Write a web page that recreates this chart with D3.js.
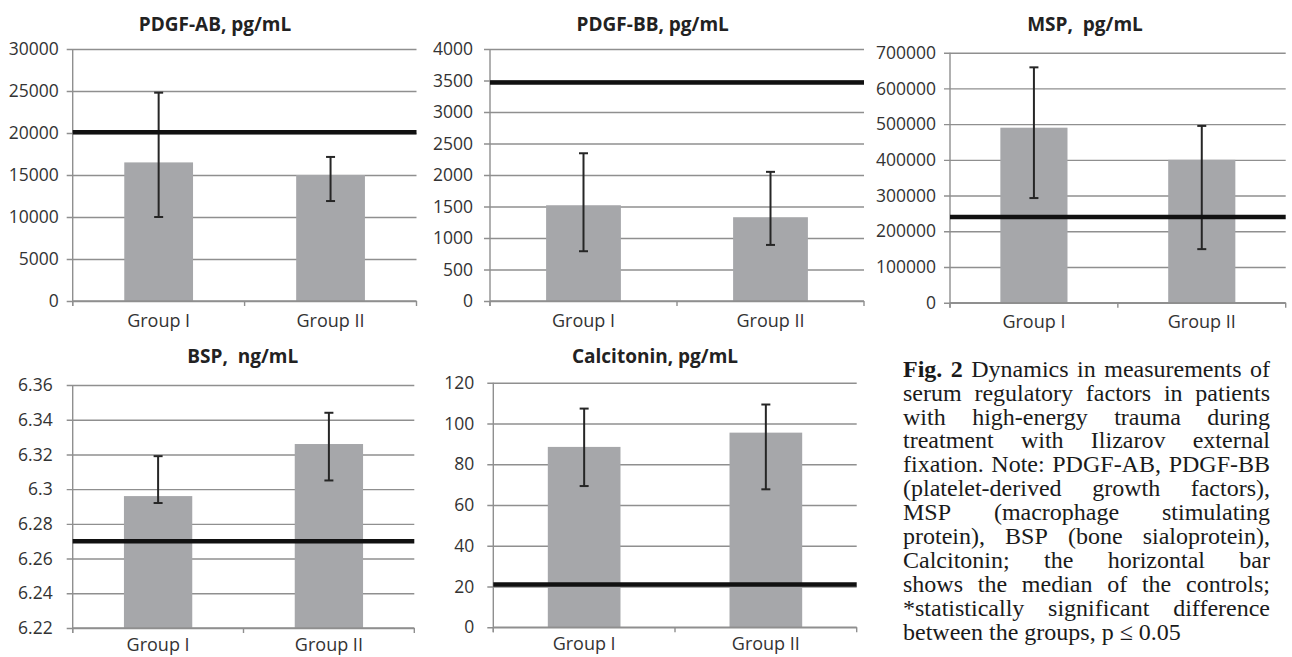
<!DOCTYPE html>
<html>
<head>
<meta charset="utf-8">
<script src="https://cdn.jsdelivr.net/npm/d3@7"></script>
<style>
  body { margin: 0; background: #fff; }
  svg { display: block; }
</style>
</head>
<body>
<div id="my_dataviz"></div>
<script>
// categories
const groups = ["Group I", "Group II"];

// PDGF-AB, pg/mL
const pdgfAbMean = [16500, 15000];
const pdgfAbLow = [10000, 11900];
const pdgfAbHigh = [24800, 17150];
const pdgfAbControl = 20100;
const pdgfAbTicks = [0, 5000, 10000, 15000, 20000, 25000, 30000];

// PDGF-BB, pg/mL
const pdgfBbMean = [1520, 1330];
const pdgfBbLow = [790, 890];
const pdgfBbHigh = [2345, 2050];
const pdgfBbControl = 3470;
const pdgfBbTicks = [0, 500, 1000, 1500, 2000, 2500, 3000, 3500, 4000];

// MSP, pg/mL
const mspMean = [490000, 400000];
const mspLow = [293000, 150000];
const mspHigh = [659000, 495000];
const mspControl = 240000;
const mspTicks = [0, 100000, 200000, 300000, 400000, 500000, 600000, 700000];

// BSP, ng/mL
const bspMean = [6.296, 6.326];
const bspLow = [6.292, 6.305];
const bspHigh = [6.319, 6.344];
const bspControl = 6.270;
const bspTicks = [6.22, 6.24, 6.26, 6.28, 6.3, 6.32, 6.34, 6.36];

// Calcitonin, pg/mL
const calcMean = [88.5, 95.5];
const calcLow = [69.3, 67.7];
const calcHigh = [107.3, 109.3];
const calcControl = 21;
const calcTicks = [0, 20, 40, 60, 80, 100, 120];

const captionLines = [
  "Fig. 2 Dynamics in measurements of",
  "serum regulatory factors in patients",
  "with high-energy trauma during",
  "treatment with Ilizarov external",
  "fixation. Note: PDGF-AB, PDGF-BB",
  "(platelet-derived growth factors),",
  "MSP (macrophage stimulating",
  "protein), BSP (bone sialoprotein),",
  "Calcitonin; the horizontal bar",
  "shows the median of the controls;",
  "*statistically significant difference",
  "between the groups, p \u2264 0.05"
];

const panels = [
  {title: "PDGF-AB, pg/mL", mean: pdgfAbMean, low: pdgfAbLow, high: pdgfAbHigh, control: pdgfAbControl, ticks: pdgfAbTicks,
   left: 72.7, right: 416.5, top: 49, bottom: 301, titleX: 215, titleY: 31, gap: 14, labY: 26},
  {title: "PDGF-BB, pg/mL", mean: pdgfBbMean, low: pdgfBbLow, high: pdgfBbHigh, control: pdgfBbControl, ticks: pdgfBbTicks,
   left: 490, right: 864, top: 49, bottom: 301, titleX: 652.7, titleY: 31, gap: 17, labY: 26},
  {title: "MSP,  pg/mL", mean: mspMean, low: mspLow, high: mspHigh, control: mspControl, ticks: mspTicks,
   left: 950, right: 1285.7, top: 52.7, bottom: 302.7, titleX: 1085, titleY: 31, gap: 14, labY: 25},
  {title: "BSP,  ng/mL", mean: bspMean, low: bspLow, high: bspHigh, control: bspControl, ticks: bspTicks,
   left: 72.7, right: 414.3, top: 385, bottom: 628, titleX: 242.7, titleY: 363, gap: 20, labY: 23},
  {title: "Calcitonin, pg/mL", mean: calcMean, low: calcLow, high: calcHigh, control: calcControl, ticks: calcTicks,
   left: 493.3, right: 856.7, top: 382.7, bottom: 627.3, titleX: 655, titleY: 363, gap: 19, labY: 23}
];

const gridColor = "#8f8f8f";
const barColor = "#a6a7aa";
const font = "'Open Sans', 'Noto Sans', sans-serif";

const svg = d3.select("#my_dataviz")
  .append("svg")
    .attr("width", 1292)
    .attr("height", 657);

panels.forEach(function(p) {
  const g = svg.append("g");
  const w = p.right - p.left;

  const y = d3.scaleLinear()
    .domain(d3.extent(p.ticks))
    .range([p.bottom, p.top]);

  const x = d3.scaleBand()
    .domain(groups)
    .range([p.left, p.right])
    .padding(0);

  // title
  g.append("text")
    .attr("x", p.titleX)
    .attr("y", p.titleY)
    .attr("text-anchor", "middle")
    .style("font-family", font)
    .style("font-size", "19px")
    .style("font-weight", 700)
    .style("fill", "#222")
    .style("white-space", "pre")
    .text(p.title);

  // y axis with gridlines
  const yAxis = g.append("g")
    .attr("transform", `translate(${p.left},0)`)
    .call(d3.axisLeft(y).tickValues(p.ticks).tickFormat(d3.format("~g"))
      .tickSizeInner(-w).tickSizeOuter(0).tickPadding(p.gap));
  yAxis.select(".domain").remove();
  yAxis.selectAll(".tick line")
    .attr("x1", -6)
    .attr("stroke", gridColor)
    .attr("stroke-width", 1.4);
  yAxis.selectAll(".tick text")
    .style("font-family", font)
    .style("font-size", "17.5px")
    .style("fill", "#333");

  // left axis line
  g.append("line")
    .attr("x1", p.left).attr("x2", p.left)
    .attr("y1", p.top).attr("y2", p.bottom + 5)
    .attr("stroke", gridColor)
    .attr("stroke-width", 1.4);

  // bars
  g.selectAll("rect.bar")
    .data(groups)
    .join("rect")
      .attr("class", "bar")
      .attr("x", d => x(d) + x.bandwidth() * 0.3)
      .attr("width", x.bandwidth() * 0.4)
      .attr("y", (d, i) => y(p.mean[i]))
      .attr("height", (d, i) => p.bottom - y(p.mean[i]))
      .style("fill", barColor);

  // bottom axis
  g.append("line")
    .attr("x1", p.left).attr("x2", p.right)
    .attr("y1", p.bottom).attr("y2", p.bottom)
    .attr("stroke", gridColor)
    .attr("stroke-width", 1.6);
  const bounds = groups.map(d => x(d)).concat([x.range()[1]]);
  g.selectAll("line.xtick")
    .data(bounds)
    .join("line")
      .attr("class", "xtick")
      .attr("x1", d => d).attr("x2", d => d)
      .attr("y1", p.bottom).attr("y2", p.bottom + 5)
      .attr("stroke", gridColor)
      .attr("stroke-width", 1.4);
  g.selectAll("text.xlab")
    .data(groups)
    .join("text")
      .attr("class", "xlab")
      .attr("x", d => x(d) + x.bandwidth() / 2)
      .attr("y", p.bottom + p.labY)
      .attr("text-anchor", "middle")
      .style("font-family", font)
      .style("font-size", "18px")
      .style("fill", "#333")
      .text(d => d);

  // error bars
  const eb = g.selectAll("g.err")
    .data(groups)
    .join("g")
      .attr("class", "err")
      .attr("stroke", "#262626")
      .attr("stroke-width", 2);
  eb.append("line")
    .attr("x1", d => x(d) + x.bandwidth() / 2)
    .attr("x2", d => x(d) + x.bandwidth() / 2)
    .attr("y1", (d, i) => y(p.low[i]))
    .attr("y2", (d, i) => y(p.high[i]));
  [p.low, p.high].forEach(function(arr) {
    eb.append("line")
      .attr("x1", d => x(d) + x.bandwidth() / 2 - 4.5)
      .attr("x2", d => x(d) + x.bandwidth() / 2 + 4.5)
      .attr("y1", (d, i) => y(arr[i]))
      .attr("y2", (d, i) => y(arr[i]));
  });

  // median of the controls
  g.append("line")
    .attr("x1", p.left).attr("x2", p.right)
    .attr("y1", y(p.control)).attr("y2", y(p.control))
    .attr("stroke", "#111")
    .attr("stroke-width", 4.5);
});

// caption, justified like the printed figure legend
const capLeft = 903, capRight = 1270, capTop = 376.7, capStep = 23.9;
const cap = svg.append("g")
  .style("font-family", "'Liberation Serif', 'Times New Roman', serif")
  .style("font-size", "24px")
  .style("fill", "#1a1a1a");

captionLines.forEach(function(line, i) {
  const words = line.split(" ");
  const texts = words.map(function(wd, j) {
    return cap.append("text")
      .attr("y", capTop + i * capStep)
      .style("font-weight", (i === 0 && j < 2) ? 700 : 400)
      .text(wd);
  });
  const widths = texts.map(t => t.node().getComputedTextLength());
  const total = d3.sum(widths);
  const last = i === captionLines.length - 1;
  const space = last ? 6 : (capRight - capLeft - total) / (words.length - 1);
  let cx = capLeft;
  texts.forEach(function(t, j) {
    t.attr("x", cx);
    cx += widths[j] + space;
  });
});
</script>
</body>
</html>
